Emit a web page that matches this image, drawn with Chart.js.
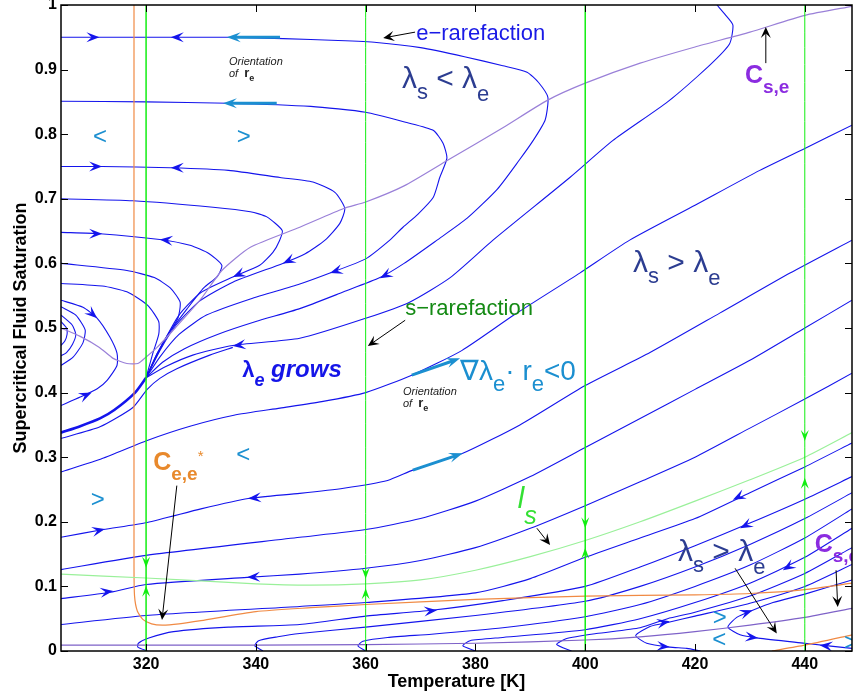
<!DOCTYPE html>
<html>
<head>
<meta charset="utf-8">
<script src="https://cdn.jsdelivr.net/npm/chart.js@4.4.1/dist/chart.umd.min.js"></script>
<style>
  html, body { margin: 0; padding: 0; background: #fff; }
</style>
</head>
<body>
<canvas id="chart" width="854" height="698"></canvas>
<script>
// axis ticks
const tempTicks = [320, 340, 360, 380, 400, 420, 440];
const satTicks = [0, 0.1, 0.2, 0.3, 0.4, 0.5, 0.6, 0.7, 0.8, 0.9, 1];
const satTickLabels = ['0', '0.1', '0.2', '0.3', '0.4', '0.5', '0.6', '0.7', '0.8', '0.9', '1'];

// e-rarefaction curves leaving the left wall, turning and running back to the node
const curveA1 = [[304.5,0.95],[320,0.95],[335,0.95],[345,0.948],[355,0.945],[362,0.942],[370,0.934],[378,0.92],[385,0.906],[389.4,0.896],[391.5,0.88],[393.2,0.857],[392.7,0.822],[390.5,0.79],[388,0.76],[384,0.715],[378.5,0.67],[373,0.636],[367,0.6],[362.6,0.578],[356,0.556],[348,0.53],[340,0.51],[333,0.49],[327,0.468],[323,0.447],[320,0.423]];
const curveA2 = [[304.5,0.851],[320,0.85],[335,0.848],[350,0.843],[360,0.834],[367.5,0.818],[372.3,0.806],[374.1,0.786],[374.8,0.763],[373.5,0.733],[372.3,0.702],[369.5,0.676],[366.8,0.656],[364.4,0.636],[360,0.607],[353.5,0.585],[348,0.568],[339,0.545],[331,0.52],[326,0.49],[322.5,0.455],[320,0.423]];
const curveA3 = [[304.5,0.75],[312,0.75],[324.4,0.748],[335,0.744],[344.4,0.733],[350.4,0.726],[354.4,0.71],[356.2,0.685],[355.3,0.662],[352.6,0.636],[349,0.615],[344.9,0.6],[335.8,0.571],[329.8,0.542],[325.5,0.505],[322.5,0.465],[320,0.423]];
const curveA4 = [[304.5,0.7],[317.6,0.697],[332.2,0.687],[339,0.68],[342,0.672],[344.8,0.651],[344.3,0.635],[343.1,0.617],[340.7,0.597],[335.8,0.579],[330,0.555],[326,0.52],[323,0.475],[320,0.423]];
const curveA5 = [[304.5,0.648],[311.6,0.646],[322.5,0.637],[328,0.628],[331.5,0.615],[333.8,0.597],[333,0.58],[330.5,0.562],[327.5,0.53],[324,0.49],[322,0.46],[320,0.423]];
const curveA6 = [[304.5,0.6],[316.5,0.589],[321.5,0.578],[324.4,0.562],[326.2,0.54],[325.8,0.515],[324,0.49],[322,0.46],[320,0.423]];
const curveA7 = [[304.5,0.569],[312,0.565],[316.5,0.556],[320.3,0.535],[322.3,0.51],[322.3,0.49],[321.2,0.46],[320,0.423]];
const curveR0 = [[424,1],[425.5,0.985],[426.9,0.969],[426.3,0.94],[422.7,0.907],[415,0.85],[405,0.79],[397.2,0.733],[383.2,0.636],[375.4,0.578],[368,0.54],[360,0.515],[348,0.484],[335.8,0.473],[328.5,0.458],[323.5,0.44],[320,0.423]];
const curveBundle = [[320,0.423],[318,0.4],[314.2,0.373],[311.6,0.36],[308,0.348],[304.5,0.338]];
const curveL1 = [[304.5,0.329],[311.6,0.347],[317.6,0.377],[320.2,0.405],[322.5,0.422],[325.6,0.437],[331.6,0.458],[335.8,0.47]];

// small loops near the left wall
const loopLA = [[304.5,0.543],[308.5,0.532],[311.1,0.515],[313.4,0.486],[314.7,0.461],[314.7,0.442],[312.9,0.419],[311.1,0.406],[308,0.393],[304.5,0.38]];
const loopLB = [[304.5,0.533],[307.2,0.52],[308.9,0.497],[308.5,0.477],[306.7,0.455],[304.5,0.442]];
const loopLC = [[304.5,0.52],[306.5,0.505],[307.2,0.49],[306.6,0.475],[305.5,0.462],[304.5,0.457]];
const loopLD = [[304.5,0.51],[305.5,0.5],[305.6,0.49],[305.2,0.48],[304.5,0.473]];

// s-rarefaction curves from the left wall
const curveL2 = [[304.5,0.277],[312,0.298],[320.2,0.326],[328,0.348],[336,0.365],[344.4,0.376],[352,0.386],[360,0.4],[368.4,0.427],[377.5,0.465],[387,0.52],[399,0.585],[408.1,0.636],[420,0.69],[431.8,0.744],[440,0.778],[448.6,0.814]];
const curveL3 = [[304.5,0.176],[312.2,0.188],[320.2,0.199],[330,0.22],[338.6,0.236],[348,0.244],[356,0.252],[364,0.264],[368.6,0.28],[377.7,0.306],[388.1,0.35],[400,0.411],[411.8,0.462],[424.5,0.523],[437.3,0.585],[448.6,0.636]];
const curveL4 = [[304.5,0.126],[320,0.148],[348,0.176],[360,0.188],[370,0.205],[380,0.232],[390,0.27],[400,0.315],[410,0.36],[420,0.405],[430,0.45],[440,0.5],[448.6,0.543]];
const curveL5 = [[304.5,0.081],[313.5,0.091],[320,0.103],[338.4,0.114],[348,0.119],[360,0.128],[370,0.14],[380,0.16],[390,0.19],[400,0.225],[410,0.262],[420,0.3],[430,0.345],[440,0.39],[448.6,0.43]];
const curveL6 = [[304.5,0.041],[320,0.055],[348,0.069],[360,0.075],[380,0.09],[390,0.112],[400,0.145],[410,0.175],[420,0.205],[430,0.245],[440,0.285],[448.6,0.322]];

// curves that start on the bottom edge
const loop320 = [[320.2,0],[318.5,0.006],[318.6,0.012],[320.5,0.02],[325,0.03],[335,0.037],[348,0.041],[360,0.054],[372,0.063],[385,0.078],[400,0.1],[410,0.13],[420,0.163],[430,0.198],[440,0.235],[448.6,0.27]];
const loop340 = [[341.3,0],[339.8,0.008],[340.5,0.016],[344,0.022],[348,0.027],[360,0.037],[380,0.055],[400,0.077],[410,0.1],[420,0.13],[430,0.165],[440,0.205],[448.6,0.245]];
const loop360 = [[360,0],[358.6,0.008],[359.5,0.015],[364,0.021],[372,0.026],[385,0.036],[400,0.053],[410,0.072],[420,0.1],[430,0.133],[440,0.175],[448.6,0.22]];
const loop380 = [[380,0],[377.7,0.008],[379,0.016],[385,0.021],[400,0.033],[410,0.05],[420,0.075],[430,0.105],[440,0.145],[448.6,0.19]];
const loop395 = [[397.5,0],[394.8,0.01],[396.5,0.019],[402,0.027],[410,0.036],[415,0.05],[420,0.06],[430,0.085],[440,0.12],[448.6,0.16]];
const loop409 = [[421,0],[418.5,0.004],[415.4,0.006],[411.2,0.012],[409.2,0.024],[411.8,0.038],[415.4,0.045],[420,0.054],[430,0.074],[440,0.1],[448.6,0.134]];
const loop426 = [[448.6,0.004],[440,0.012],[431.5,0.02],[428.2,0.025],[426,0.037],[427.6,0.052],[430.5,0.063],[434.2,0.075],[440,0.088],[448.6,0.11]];

// coincidence and inflection loci
const curveCse = [[304.5,0.5],[308,0.487],[311.5,0.47],[314,0.453],[316.5,0.445],[318.5,0.445],[320,0.455],[322,0.47],[325.3,0.5],[330,0.545],[333.8,0.589],[339,0.625],[348,0.656],[356,0.685],[360,0.695],[367,0.72],[375,0.76],[385,0.81],[393,0.852],[400,0.879],[410,0.91],[420,0.935],[430,0.958],[440,0.984],[448.6,0.998]];
const curveCseLow = [[304.5,0.009],[340,0.009],[360,0.01],[380,0.012],[400,0.017],[410,0.022],[420,0.03],[430,0.04],[440,0.052],[448.6,0.066]];
const curveCee = [[317.8,1],[317.8,0.13],[317.9,0.085],[318.4,0.062],[319.4,0.049],[321,0.042],[323,0.04],[326,0.042],[330,0.047],[340,0.061],[350,0.067],[360,0.072],[380,0.08],[400,0.085],[420,0.087],[430,0.089],[440,0.095],[448.6,0.105]];
const curveCeeLow = [[434,0],[440,0.009],[448.6,0.025]];
const curveLs = [[304.5,0.119],[320,0.113],[340,0.104],[350,0.102],[360,0.104],[370,0.11],[380,0.125],[390,0.146],[400,0.171],[410,0.2],[420,0.232],[430,0.265],[440,0.3],[448.6,0.338]];
const sRarefactionTemps = [320, 360, 400, 440];

// arrow marks: [T from, S from, T to, S to]
const blueArrows = [
  [309,0.95,311.5,0.95],[327,0.95,324.5,0.95],
  [309.5,0.75,312,0.75],[327,0.748,324.5,0.748],
  [309.5,0.646,312,0.646],[325,0.635,322.5,0.637],
  [310,0.184,312.5,0.189],[341,0.238,338.6,0.236],
  [311.5,0.09,314,0.093],[341,0.115,338.4,0.114],
  [365,0.588,362.6,0.577],[356,0.592,353.5,0.585],[347.5,0.61,344.9,0.6],[338.5,0.589,335.8,0.579],[339,0.476,335.8,0.472],
  [309.5,0.527,311.1,0.515],[308.5,0.394,310.1,0.4],
  [413,0.042,415.4,0.046],[413,0.008,415.4,0.006],
  [428.5,0.057,430.5,0.063],[429.5,0.022,431.5,0.02],[445,0.007,442.7,0.009],
  [370.5,0.061,373,0.063],
  [429.5,0.245,426.9,0.234],[431,0.202,428.2,0.19],[438.5,0.138,436,0.125]
];
const greenArrows = [
  [320,0.15,320,0.129],[320,0.08,320,0.101],
  [360,0.135,360,0.112],[360,0.075,360,0.097],
  [400,0.22,400,0.19],[400,0.13,400,0.16],
  [440,0.35,440,0.325],[440,0.24,440,0.268]
];
const blackArrows = [
  [369,0.958,363.2,0.949],
  [367.2,0.512,360.4,0.472],
  [432.9,0.91,432.9,0.966],
  [325.6,0.256,322.9,0.048],
  [391.2,0.19,393.6,0.164],
  [427.3,0.128,434.9,0.027],
  [445.7,0.125,446,0.068]
];
const orientArrows = [
  [344.4,0.95,334.7,0.95],
  [343.8,0.848,334,0.848],
  [368.4,0.427,377.2,0.453],
  [368.6,0.28,377.7,0.306]
];

const FONT = '"Liberation Sans", Arial, Helvetica, sans-serif';
const BLUE = '#1414ec';

const labels = [
  {t: 369.2, s: 0.946, color: '#1a1ae6', parts: [['e\u2212rarefaction', '22px', 0]]},
  {t: 366.6, s: 0.871, color: '#2c3d91', parts: [['\u03bb', '30px', 0], ['s', '22px', 11], [' < ', '30px', 0], ['\u03bb', '30px', 0], ['e', '22px', 13]]},
  {t: 408.7, s: 0.586, color: '#2c3d91', parts: [['\u03bb', '30px', 0], ['s', '22px', 11], [' > ', '30px', 0], ['\u03bb', '30px', 0], ['e', '22px', 13]]},
  {t: 416.9, s: 0.14, color: '#2c3d91', parts: [['\u03bb', '30px', 0], ['s', '22px', 11], [' > ', '30px', 0], ['\u03bb', '30px', 0], ['e', '22px', 13]]},
  {t: 377.2, s: 0.419, color: '#1b8fd0', parts: [['\u2207\u03bb', '28px', 0], ['e', '22px', 11], ['\u00b7 r', '28px', 0], ['e', '22px', 11], ['<0', '28px', 0]]},
  {t: 367.2, s: 0.52, color: '#148a14', parts: [['s\u2212rarefaction', '22px', 0]]},
  {t: 337.5, s: 0.424, color: '#1515e8', parts: [['\u03bb', 'bold 22px', 0], ['e', 'italic bold 18px', 9], [' grows', 'italic bold 24px', 0]]},
  {t: 429.1, s: 0.879, color: '#8b2ce0', parts: [['C', 'bold 25px', 0], ['s,e', 'bold 19px', 10]]},
  {t: 441.8, s: 0.153, color: '#8b2ce0', parts: [['C', 'bold 25px', 0], ['s,e', 'bold 19px', 10]]},
  {t: 321.3, s: 0.28, color: '#e8892c', parts: [['C', 'bold 25px', 0], ['e,e', 'bold 19px', 10], ['*', '15px', -9]]},
  {t: 387.7, s: 0.222, color: '#33e033', parts: [['l', 'italic 29px', 0], ['s', 'italic 25px', 16]]},
  {t: 335.1, s: 0.907, color: '#222', parts: [['Orientation', 'italic 11px', 0]]},
  {t: 335.1, s: 0.888, color: '#222', parts: [['of  ', 'italic 11px', 0], ['r', 'bold 13px', 0], ['e', 'bold 9px', 4]]},
  {t: 366.8, s: 0.396, color: '#222', parts: [['Orientation', 'italic 11px', 0]]},
  {t: 366.8, s: 0.377, color: '#222', parts: [['of  ', 'italic 11px', 0], ['r', 'bold 13px', 0], ['e', 'bold 9px', 4]]}
];
const markers = [
  [311.6, 0.795, '<'], [337.8, 0.795, '>'], [337.7, 0.303, '<'], [311.2, 0.233, '>'],
  [424.5, 0.051, '>'], [424.4, 0.017, '<'], [448.4, 0.012, '>']
];

function line(pts, color, width) {
  return {
    data: pts.map(p => ({x: p[0], y: p[1]})),
    showLine: true, borderColor: color, borderWidth: width || 1.1,
    pointRadius: 0, tension: 0.2, fill: false
  };
}

const datasets = [];
sRarefactionTemps.forEach((t, i) => datasets.push(line([[t, 0], [t, 1]], '#11ee11', i % 2 ? 1 : 1.5)));
datasets.push(line(curveLs, '#9af09a', 1.2));
datasets.push(line(curveCse, '#9a80d8', 1.2));
datasets.push(line(curveCseLow, '#7e62c8', 1.2));
datasets.push(line(curveCee, '#f08a44', 1.2));
datasets.push(line(curveCeeLow, '#f08a44', 1.2));
[curveA1, curveA2, curveA3, curveA4, curveA5, curveA6, curveA7, curveR0, curveL1,
 loopLA, loopLB, loopLC, loopLD, curveL2, curveL3, curveL4, curveL5, curveL6,
 loop320, loop340, loop360, loop380, loop395, loop409, loop426].forEach(c => datasets.push(line(c, BLUE, 1.1)));
datasets.push(line(curveBundle, BLUE, 2.6));

function arrowHead(ctx, x, y, ang, len, wid, color) {
  ctx.save();
  ctx.translate(x, y);
  ctx.rotate(ang);
  ctx.fillStyle = color;
  ctx.beginPath();
  ctx.moveTo(0, 0);
  ctx.lineTo(-len, -wid / 2);
  ctx.lineTo(-len * 0.6, 0);
  ctx.lineTo(-len, wid / 2);
  ctx.closePath();
  ctx.fill();
  ctx.restore();
}

const overlay = {
  id: 'overlay',
  afterDatasetsDraw(chart) {
    const ctx = chart.ctx, xs = chart.scales.x, ys = chart.scales.y, a = chart.chartArea;
    const px = t => xs.getPixelForValue(t), py = s => ys.getPixelForValue(s);
    ctx.save();
    ctx.beginPath();
    ctx.rect(a.left, a.top, a.right - a.left, a.bottom - a.top);
    ctx.clip();

    blueArrows.forEach(r => {
      const ang = Math.atan2(py(r[3]) - py(r[1]), px(r[2]) - px(r[0]));
      arrowHead(ctx, px(r[2]), py(r[3]), ang, 13, 10, BLUE);
    });
    greenArrows.forEach(r => {
      const ang = Math.atan2(py(r[3]) - py(r[1]), px(r[2]) - px(r[0]));
      arrowHead(ctx, px(r[2]), py(r[3]), ang, 11, 8, '#11ee11');
    });
    blackArrows.forEach(r => {
      const x1 = px(r[0]), y1 = py(r[1]), x2 = px(r[2]), y2 = py(r[3]);
      const ang = Math.atan2(y2 - y1, x2 - x1);
      ctx.strokeStyle = '#000';
      ctx.lineWidth = 1;
      ctx.beginPath();
      ctx.moveTo(x1, y1);
      ctx.lineTo(x2 - 5 * Math.cos(ang), y2 - 5 * Math.sin(ang));
      ctx.stroke();
      arrowHead(ctx, x2, y2, ang, 11, 10, '#000');
    });
    orientArrows.forEach(r => {
      const x1 = px(r[0]), y1 = py(r[1]), x2 = px(r[2]), y2 = py(r[3]);
      const ang = Math.atan2(y2 - y1, x2 - x1);
      ctx.strokeStyle = '#1b8fd0';
      ctx.lineWidth = 3;
      ctx.beginPath();
      ctx.moveTo(x1, y1);
      ctx.lineTo(x2 - 8 * Math.cos(ang), y2 - 8 * Math.sin(ang));
      ctx.stroke();
      arrowHead(ctx, x2, y2, ang, 14, 10, '#1b8fd0');
    });

    ctx.textAlign = 'left';
    ctx.textBaseline = 'alphabetic';
    labels.forEach(lb => {
      let x = px(lb.t);
      const y = py(lb.s);
      ctx.fillStyle = lb.color;
      lb.parts.forEach(p => {
        ctx.font = p[1] + ' ' + FONT;
        ctx.fillText(p[0], x, y + p[2]);
        x += ctx.measureText(p[0]).width;
      });
    });
    ctx.fillStyle = '#1b8fd0';
    ctx.font = '24px ' + FONT;
    ctx.textAlign = 'center';
    ctx.textBaseline = 'middle';
    markers.forEach(m => ctx.fillText(m[2], px(m[0]), py(m[1])));
    ctx.restore();
  },
  afterDraw(chart) {
    const ctx = chart.ctx, xs = chart.scales.x, ys = chart.scales.y, a = chart.chartArea;
    ctx.save();
    ctx.strokeStyle = '#000';
    ctx.lineWidth = 1;
    const tl = 7;
    ctx.beginPath();
    tempTicks.forEach(t => {
      const x = Math.round(xs.getPixelForValue(t)) + 0.5;
      ctx.moveTo(x, a.bottom); ctx.lineTo(x, a.bottom - tl);
      ctx.moveTo(x, a.top); ctx.lineTo(x, a.top + tl);
    });
    satTicks.forEach(s => {
      const y = Math.round(ys.getPixelForValue(s)) + 0.5;
      ctx.moveTo(a.left, y); ctx.lineTo(a.left + tl, y);
      ctx.moveTo(a.right, y); ctx.lineTo(a.right - tl, y);
    });
    ctx.stroke();
    ctx.lineWidth = 1.5;
    ctx.strokeRect(a.left, a.top, a.right - a.left, a.bottom - a.top);
    ctx.restore();
  }
};

new Chart(document.getElementById('chart'), {
  type: 'scatter',
  data: {datasets: datasets},
  options: {
    responsive: false,
    animation: false,
    layout: {padding: {top: 5, right: 2, left: 0, bottom: 0}},
    plugins: {legend: {display: false}, tooltip: {enabled: false}},
    scales: {
      x: {
        type: 'linear', min: 304.5, max: 448.6,
        afterBuildTicks: s => { s.ticks = tempTicks.map(v => ({value: v})); },
        afterFit: s => { s.height = 47; s.paddingLeft = 0; s.paddingRight = 0; },
        grid: {display: true, drawOnChartArea: false, drawTicks: false},
        border: {display: false},
        ticks: {color: '#000', padding: 4, font: {family: FONT, size: 16, weight: 'bold'}, callback: v => String(v)},
        title: {display: true, text: 'Temperature [K]', color: '#000', padding: {top: 0, bottom: 5}, font: {family: FONT, size: 18, weight: 'bold'}}
      },
      y: {
        type: 'linear', min: 0, max: 1,
        afterBuildTicks: s => { s.ticks = satTicks.map(v => ({value: v})); },
        afterFit: s => { s.width = 61; s.paddingTop = 0; s.paddingBottom = 0; },
        grid: {display: true, drawOnChartArea: false, drawTicks: false},
        border: {display: false},
        ticks: {color: '#000', padding: 4, font: {family: FONT, size: 16, weight: 'bold'}, callback: v => satTickLabels[satTicks.indexOf(v)]},
        title: {display: true, text: 'Supercritical Fluid Saturation', color: '#000', padding: {top: 10, bottom: 0}, font: {family: FONT, size: 18, weight: 'bold'}}
      }
    }
  },
  plugins: [overlay]
});
</script>
</body>
</html>
